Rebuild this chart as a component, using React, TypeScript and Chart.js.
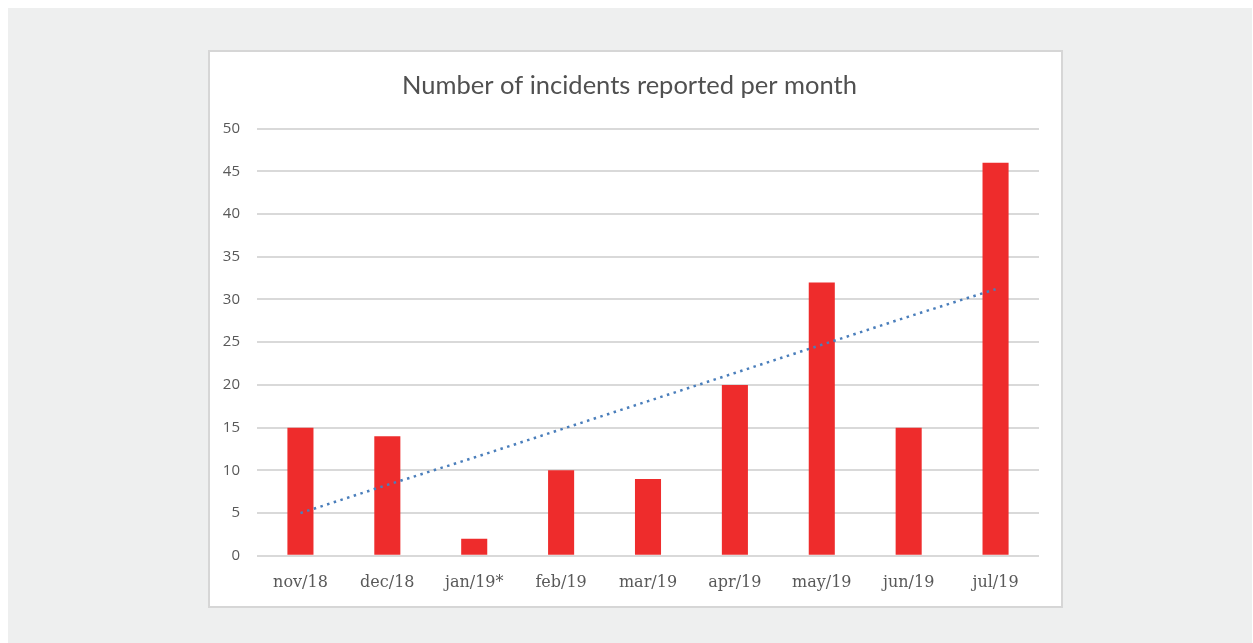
import React, { useEffect, useRef } from "react";
import { Chart, registerables } from "chart.js";

Chart.register(...registerables);

const categories = ["nov/18", "dec/18", "jan/19*", "feb/19", "mar/19", "apr/19", "may/19", "jun/19", "jul/19"];
const incidents = [15, 14, 2, 10, 9, 20, 32, 15, 46];
const trendValues = [5.0, 8.3, 11.5, 14.8, 18.1, 21.4, 24.7, 28.0, 31.2];
const yTicks = [0, 5, 10, 15, 20, 25, 30, 35, 40, 45, 50];
const chartTitle = "Number of incidents reported per month";

export default function App() {
  const ref = useRef<HTMLCanvasElement | null>(null);
  useEffect(() => {
    const chart = new Chart(ref.current!, {
      type: "bar",
      data: {
        labels: categories,
        datasets: [
          {
            type: "line",
            label: "Trend",
            data: trendValues,
            borderColor: "#4a7ebb",
            borderWidth: 2.5,
            borderDash: [2.5, 4.5],
            pointRadius: 0,
            fill: false,
            order: 0,
          } as any,
          {
            type: "bar",
            label: "Incidents",
            data: incidents,
            backgroundColor: "#ee2c2c",
            categoryPercentage: 1,
            barPercentage: 0.3,
            order: 1,
          },
        ],
      },
      options: {
        responsive: false,
        animation: false,
        layout: { padding: { left: 10, right: 22, top: 10, bottom: 5 } },
        plugins: {
          legend: { display: false },
          tooltip: { enabled: false },
          title: {
            display: true,
            text: chartTitle,
            color: "#505050",
            font: { family: "Lato", size: 25.5, weight: "normal" },
            padding: { top: 8, bottom: 28 },
          },
        },
        scales: {
          x: {
            grid: { display: false },
            border: { display: false },
            ticks: {
              color: "#595959",
              font: { family: "DejaVu Serif", size: 16 },
              padding: 9,
            },
          },
          y: {
            min: 0,
            max: 50,
            afterBuildTicks: (axis: any) => {
              axis.ticks = yTicks.map((v) => ({ value: v }));
            },
            afterFit: (axis: any) => {
              axis.width = 37;
            },
            grid: { color: "#d9d9d9", lineWidth: 2, drawTicks: false },
            border: { display: false },
            ticks: {
              color: "#595959",
              font: { family: "Open Sans", size: 15 },
              padding: 17,
            },
          },
        },
      },
    });
    return () => chart.destroy();
  }, []);
  return (
    <div
      style={{
        position: "fixed",
        left: 8,
        top: 8,
        right: 1,
        bottom: 0,
        background: "#eeefef",
      }}
    >
      <div
        style={{
          position: "absolute",
          left: 200,
          top: 42,
          width: 851,
          height: 554,
          background: "#fff",
          border: "2px solid #d6d6d6",
        }}
      >
        <canvas ref={ref} width={851} height={554} style={{ display: "block" }} />
      </div>
    </div>
  );
}
